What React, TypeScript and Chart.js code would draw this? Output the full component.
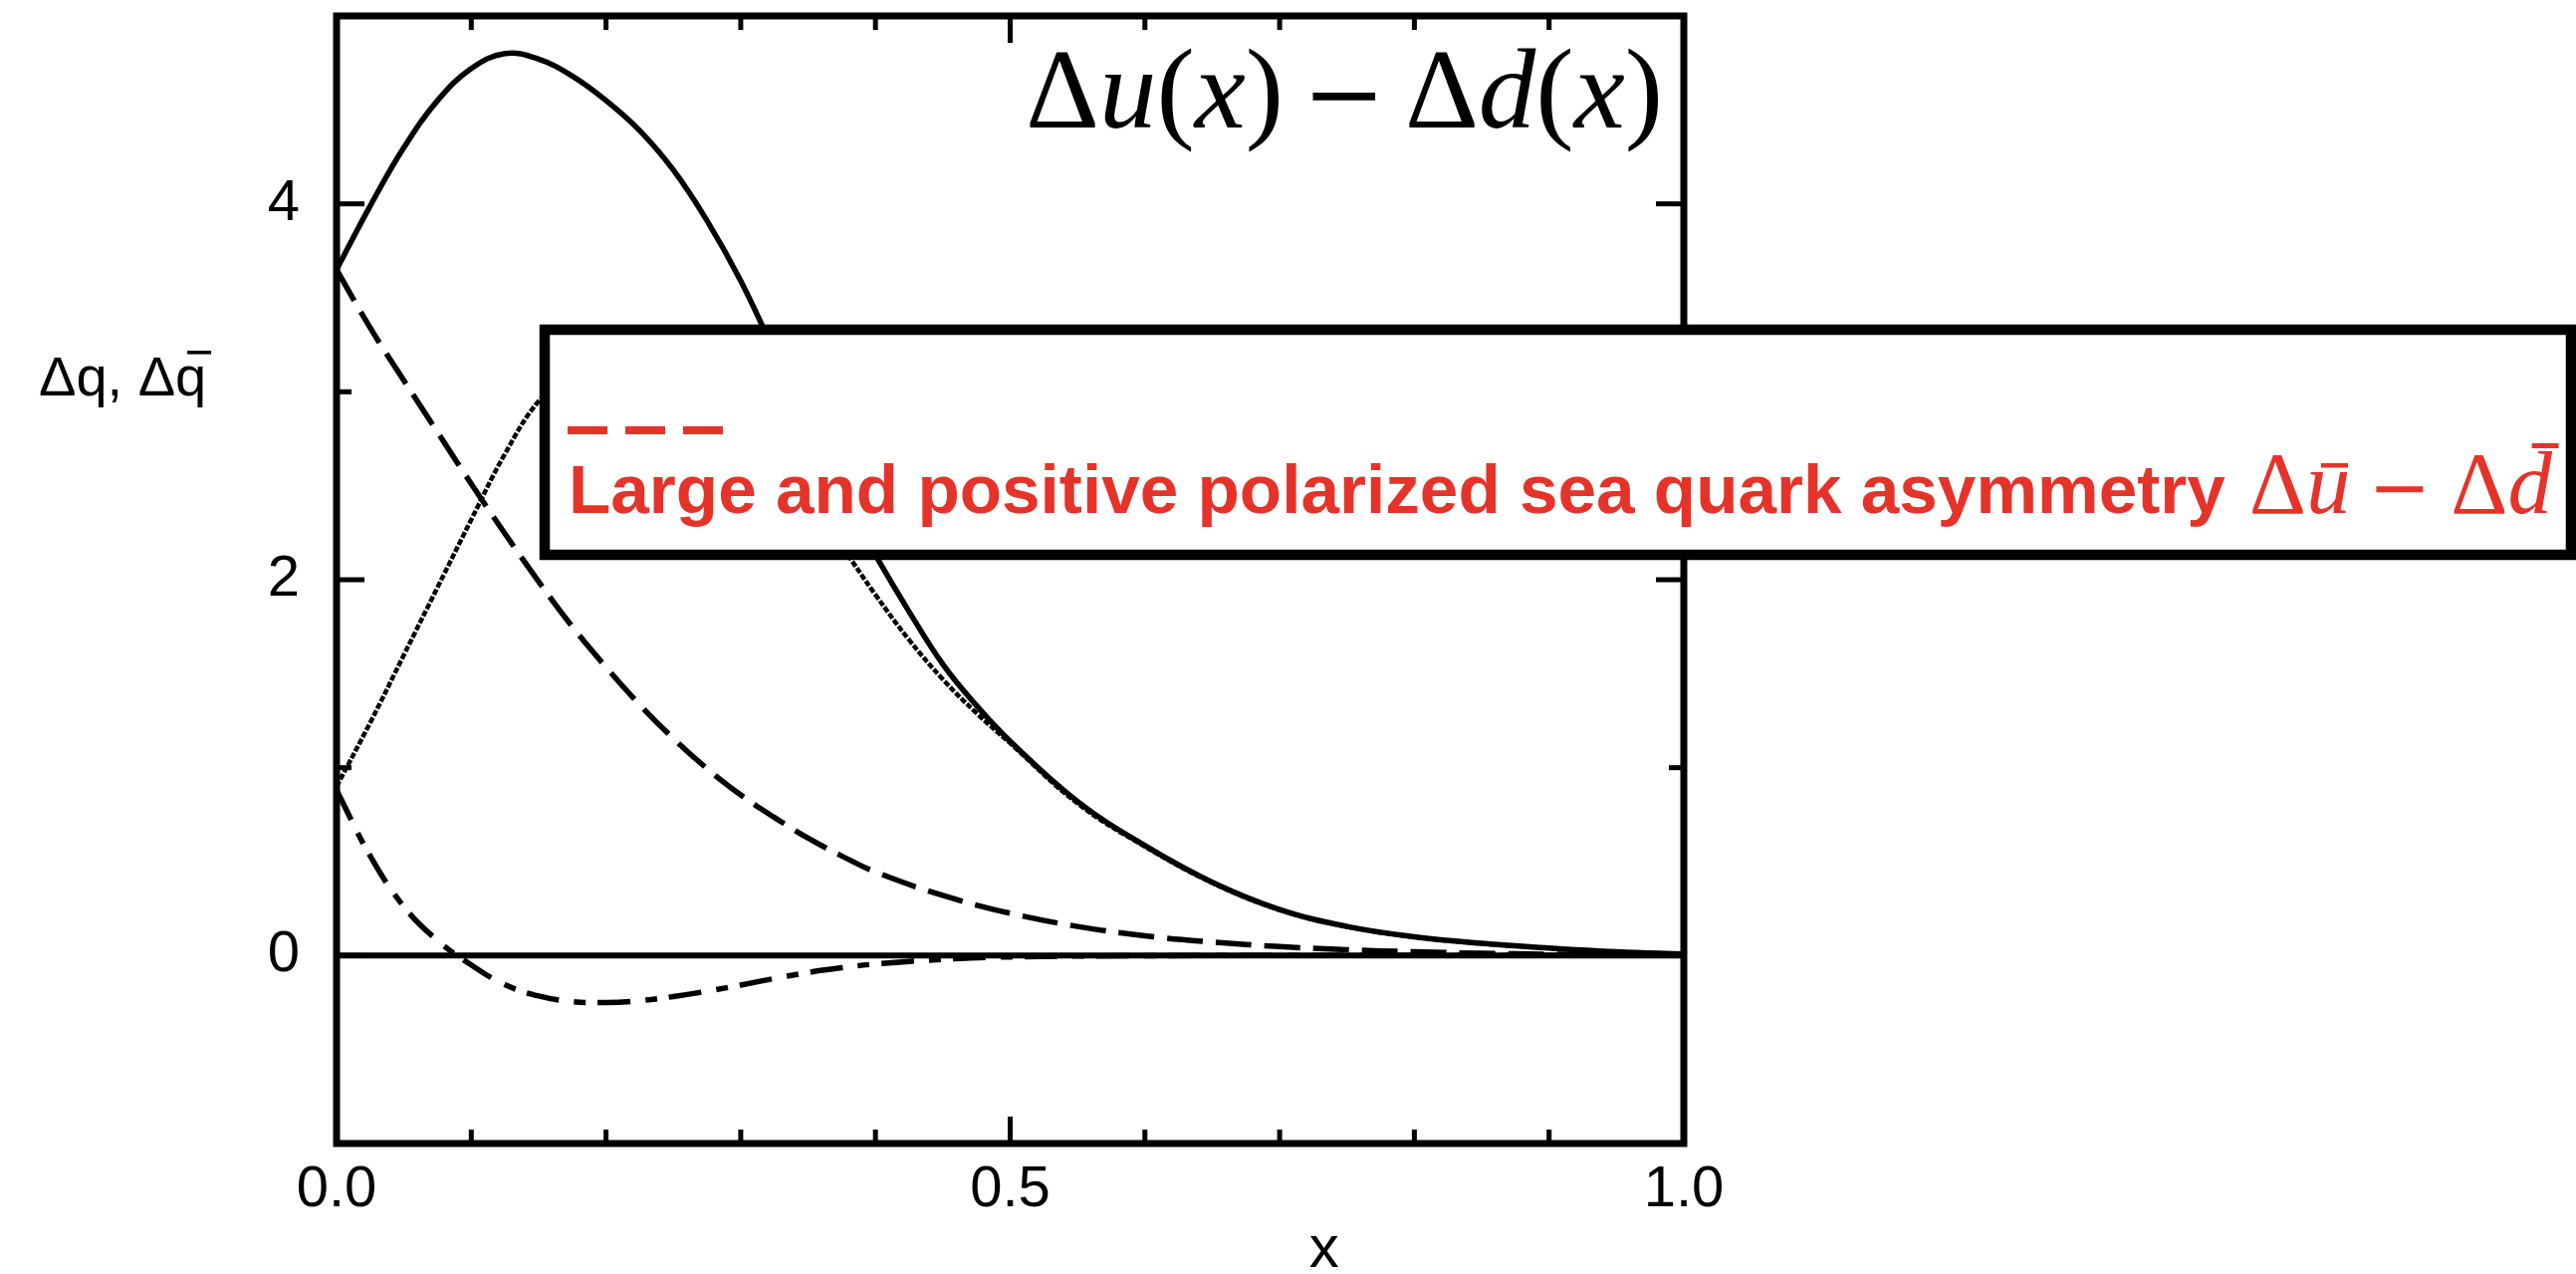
import React, { useEffect, useRef } from 'react';
import { Chart, registerables } from 'chart.js';

Chart.register(...registerables);

const W = 2587;
const H = 1279;

// ---- axis ticks ----
const xTickValues = [0, 0.1, 0.2, 0.3, 0.4, 0.5, 0.6, 0.7, 0.8, 0.9, 1.0];
const xTickLabels = ['0.0', '', '', '', '', '0.5', '', '', '', '', '1.0'];
const yTickValues = [-1, 0, 1, 2, 3, 4, 5];
const yTickLabels = ['', '0', '', '2', '', '4', ''];

// ---- texts ----
const yAxisLabelMain = 'Δq, Δ';
const yAxisLabelBarred = 'q';
const xAxisLabel = 'x';
type Run = { t: string; i?: boolean; minus?: boolean; padL?: number; padR?: number; bar?: boolean };
const titleRuns: Run[] = [
  { t: 'Δ' }, { t: 'u', i: true }, { t: '(' }, { t: 'x', i: true }, { t: ')' },
  { t: '−', minus: true, padL: 19, padR: 19 },
  { t: 'Δ' }, { t: 'd', i: true }, { t: '(' }, { t: 'x', i: true }, { t: ')' },
];
const boxText = 'Large and positive polarized sea quark asymmetry';
const boxMathRuns: Run[] = [
  { t: 'Δ' }, { t: 'u', i: true, bar: true },
  { t: '−', minus: true, padL: 18, padR: 20 },
  { t: 'Δ' }, { t: 'd', i: true, bar: true },
];

// ---- series ----
const zeroX = [0, 1];
const zeroY = [0, 0];

const solidX = [0, 0.025, 0.05, 0.075, 0.1, 0.125, 0.15, 0.175, 0.2, 0.225, 0.25, 0.275, 0.3, 0.325, 0.35, 0.375, 0.4, 0.425, 0.45, 0.475, 0.5, 0.55, 0.6, 0.65, 0.7, 0.75, 0.8, 0.85, 0.9, 0.95, 1.0];
const solidY = [3.65, 3.99, 4.3, 4.55, 4.72, 4.8, 4.77, 4.68, 4.55, 4.39, 4.18, 3.91, 3.59, 3.21, 2.81, 2.45, 2.13, 1.83, 1.55, 1.33, 1.14, 0.82, 0.585, 0.39, 0.245, 0.155, 0.1, 0.065, 0.04, 0.02, 0.008];

const dottedX = [0, 0.025, 0.05, 0.075, 0.1, 0.125, 0.15, 0.175, 0.2, 0.225, 0.25, 0.275, 0.3, 0.325, 0.35, 0.375, 0.4, 0.425, 0.45, 0.475, 0.5, 0.55, 0.6, 0.65, 0.7, 0.75, 0.8, 0.85, 0.9, 0.95, 1.0];
const dottedY = [0.9, 1.24, 1.6, 1.96, 2.32, 2.67, 2.95, 3.1, 3.17, 3.18, 3.13, 3.03, 2.88, 2.68, 2.44, 2.18, 1.92, 1.68, 1.47, 1.29, 1.13, 0.81, 0.58, 0.387, 0.243, 0.154, 0.099, 0.064, 0.039, 0.019, 0.007];

const dashedX = [0, 0.025, 0.05, 0.075, 0.1, 0.125, 0.15, 0.175, 0.2, 0.225, 0.25, 0.275, 0.3, 0.325, 0.35, 0.375, 0.4, 0.45, 0.5, 0.55, 0.6, 0.65, 0.7, 0.75, 0.8, 0.85, 0.9, 0.95, 1.0];
const dashedY = [3.65, 3.34, 3.06, 2.785, 2.51, 2.245, 1.99, 1.75, 1.535, 1.335, 1.155, 0.995, 0.855, 0.735, 0.625, 0.53, 0.445, 0.32, 0.225, 0.155, 0.105, 0.072, 0.048, 0.031, 0.02, 0.012, 0.007, 0.003, 0.0];

const dashDotX = [0, 0.025, 0.05, 0.075, 0.1, 0.125, 0.15, 0.175, 0.2, 0.225, 0.25, 0.275, 0.3, 0.325, 0.35, 0.375, 0.4, 0.45, 0.5, 0.6, 0.7, 1.0];
const dashDotY = [0.88, 0.53, 0.26, 0.08, -0.05, -0.155, -0.215, -0.245, -0.25, -0.24, -0.218, -0.19, -0.157, -0.122, -0.09, -0.065, -0.045, -0.02, -0.007, -0.001, 0, 0];

const SANS = '"Liberation Sans", Arial, Helvetica, sans-serif';
const SERIF = '"Liberation Serif", "Times New Roman", Times, serif';
const MINUS_FONT = '"DejaVu Serif", "Liberation Serif", serif';
const RED = '#e5332a';

const pts = (xs: number[], ys: number[]) => xs.map((x, i) => ({ x, y: ys[i] }));

const labelFor = (values: number[], labels: string[], v: number) => {
  const i = values.findIndex((t) => Math.abs(t - v) < 1e-6);
  return i >= 0 ? labels[i] : '';
};

// draws a run list; returns total width; if draw=false only measures
const layoutRuns = (
  ctx: CanvasRenderingContext2D, runs: Run[], x0: number, base: number, size: number, minusSize: number,
  draw: boolean, onBar?: (r: Run, x: number) => void,
) => {
  let x = x0;
  runs.forEach((r) => {
    ctx.font = r.minus ? `${minusSize}px ${MINUS_FONT}` : `${r.i ? 'italic ' : ''}${size}px ${SERIF}`;
    x += r.padL || 0;
    if (draw) {
      ctx.fillText(r.t, x, base);
      if (r.bar && onBar) onBar(r, x);
    }
    x += ctx.measureText(r.t).width + (r.padR || 0);
  });
  return x - x0;
};

const decorPlugin = {
  id: 'decor',
  afterDatasetsDraw(chart: any) {
    const ctx: CanvasRenderingContext2D = chart.ctx;
    const xs = chart.scales.x;
    const ys = chart.scales.y;
    const { left, right, top, bottom } = chart.chartArea;
    ctx.save();
    ctx.strokeStyle = '#000';
    ctx.fillStyle = '#000';
    ctx.lineCap = 'butt';
    ctx.lineWidth = 5;
    const seg = (x1: number, y1: number, x2: number, y2: number) => {
      ctx.beginPath();
      ctx.moveTo(x1, y1);
      ctx.lineTo(x2, y2);
      ctx.stroke();
    };
    // inward ticks on all four sides
    xTickValues.forEach((v, i) => {
      if (i === 0 || i === xTickValues.length - 1) return;
      const px = xs.getPixelForValue(v);
      const len = xTickLabels[i] !== '' ? 27 : 14;
      seg(px, bottom, px, bottom - len);
      seg(px, top, px, top + len);
    });
    yTickValues.forEach((v, i) => {
      if (i === 0 || i === yTickValues.length - 1) return;
      const py = ys.getPixelForValue(v);
      const len = yTickLabels[i] !== '' ? 28 : 15;
      seg(left, py, left + len, py);
      seg(right, py, right - len, py);
    });
    // frame
    ctx.lineWidth = 7;
    ctx.strokeRect(left, top, right - left, bottom - top);

    // title (right aligned in the plot)
    ctx.textBaseline = 'alphabetic';
    ctx.textAlign = 'left';
    const tBase = top + 112;
    const total = layoutRuns(ctx, titleRuns, 0, tBase, 115, 100, false);
    layoutRuns(ctx, titleRuns, right - 21 - total, tBase, 115, 100, true);

    // y axis label (horizontal) with overbar
    ctx.font = `56px ${SANS}`;
    const yLabX = left - 299;
    const yLabBase = ys.getPixelForValue(2.98);
    ctx.fillText(yAxisLabelMain, yLabX, yLabBase);
    const qx = yLabX + ctx.measureText(yAxisLabelMain).width;
    ctx.fillText(yAxisLabelBarred, qx, yLabBase);
    ctx.fillRect(qx + 12, yLabBase - 45, 24, 3.5);

    // x axis label
    ctx.font = `60px ${SANS}`;
    ctx.textAlign = 'center';
    ctx.fillText(xAxisLabel, xs.getPixelForValue(0.733), bottom + 124);
    ctx.restore();
  },
  afterDraw(chart: any) {
    const ctx: CanvasRenderingContext2D = chart.ctx;
    ctx.save();
    // annotation box
    const bl = 547, bt = 331, br = 2582, bb = 557;
    ctx.fillStyle = '#fff';
    ctx.fillRect(bl, bt, br - bl, bb - bt);
    ctx.strokeStyle = '#000';
    ctx.lineWidth = 10.5;
    ctx.strokeRect(bl, bt, br - bl, bb - bt);

    // red dashed legend sample
    ctx.fillStyle = RED;
    [570, 628, 686].forEach((dx) => ctx.fillRect(dx, 428, 40, 8));

    // red text
    const base = 515;
    ctx.textBaseline = 'alphabetic';
    ctx.textAlign = 'left';
    ctx.font = `bold 69.3px ${SANS}`;
    const sx = 571;
    ctx.fillText(boxText, sx, base);
    const mx = sx + ctx.measureText(boxText).width + 24;
    layoutRuns(ctx, boxMathRuns, mx, base, 89, 75, true, (r, x) => {
      if (r.t === 'u') ctx.fillRect(x + 15, base - 50, 27, 4.5);
      else ctx.fillRect(x + 24, base - 70, 27, 5);
    });
    ctx.restore();
  },
};

export default function App() {
  const ref = useRef<HTMLCanvasElement>(null);
  useEffect(() => {
    document.body.style.margin = '0';
    document.body.style.overflow = 'hidden';
    const canvas = ref.current;
    if (!canvas) return;
    const lineBase = {
      pointRadius: 0,
      pointHoverRadius: 0,
      fill: false,
      borderColor: '#000',
      tension: 0.4,
      borderCapStyle: 'butt' as const,
      borderJoinStyle: 'round' as const,
    };
    const chart = new Chart(canvas, {
      type: 'line',
      data: {
        datasets: [
          { ...lineBase, label: 'zero', data: pts(zeroX, zeroY), borderWidth: 6, tension: 0 },
          { ...lineBase, label: 'dash-dot', data: pts(dashDotX, dashDotY), borderWidth: 5.5, borderDash: [33, 15, 12, 12] },
          { ...lineBase, label: 'dashed', data: pts(dashedX, dashedY), borderWidth: 5.5, borderDash: [36, 13] },
          { ...lineBase, label: 'dotted', data: pts(dottedX, dottedY), borderWidth: 4.5, borderDash: [6, 2] },
          { ...lineBase, label: 'solid', data: pts(solidX, solidY), borderWidth: 5.5 },
        ],
      },
      options: {
        responsive: false,
        animation: false,
        devicePixelRatio: 1,
        layout: { padding: { left: 0, top: 16, right: 896, bottom: 0 } },
        plugins: { legend: { display: false }, tooltip: { enabled: false }, title: { display: false } },
        events: [],
        scales: {
          x: {
            type: 'linear',
            min: 0,
            max: 1,
            position: 'bottom',
            afterBuildTicks: (s: any) => { s.ticks = xTickValues.map((v) => ({ value: v })); },
            afterFit: (s: any) => { s.height = 131; s.paddingLeft = 0; s.paddingRight = 0; },
            grid: { display: false, drawTicks: false },
            border: { display: false },
            ticks: {
              autoSkip: false,
              maxRotation: 0,
              minRotation: 0,
              padding: 12,
              color: '#000',
              font: { family: SANS, size: 58 },
              callback: (v: any) => labelFor(xTickValues, xTickLabels, Number(v)),
            },
          },
          y: {
            type: 'linear',
            min: -1,
            max: 5,
            afterBuildTicks: (s: any) => { s.ticks = yTickValues.map((v) => ({ value: v })); },
            afterFit: (s: any) => { s.width = 338; s.paddingTop = 0; s.paddingBottom = 0; },
            grid: { display: false, drawTicks: false },
            border: { display: false },
            ticks: {
              autoSkip: false,
              padding: 37,
              color: '#000',
              font: { family: SANS, size: 58 },
              callback: (v: any) => labelFor(yTickValues, yTickLabels, Number(v)),
            },
          },
        },
      } as any,
      plugins: [decorPlugin],
    });
    return () => chart.destroy();
  }, []);
  return (
    <div style={{ width: W, height: H, position: 'relative', background: '#fff', overflow: 'hidden' }}>
      <canvas ref={ref} width={W} height={H} style={{ display: 'block', width: W, height: H }} />
    </div>
  );
}
